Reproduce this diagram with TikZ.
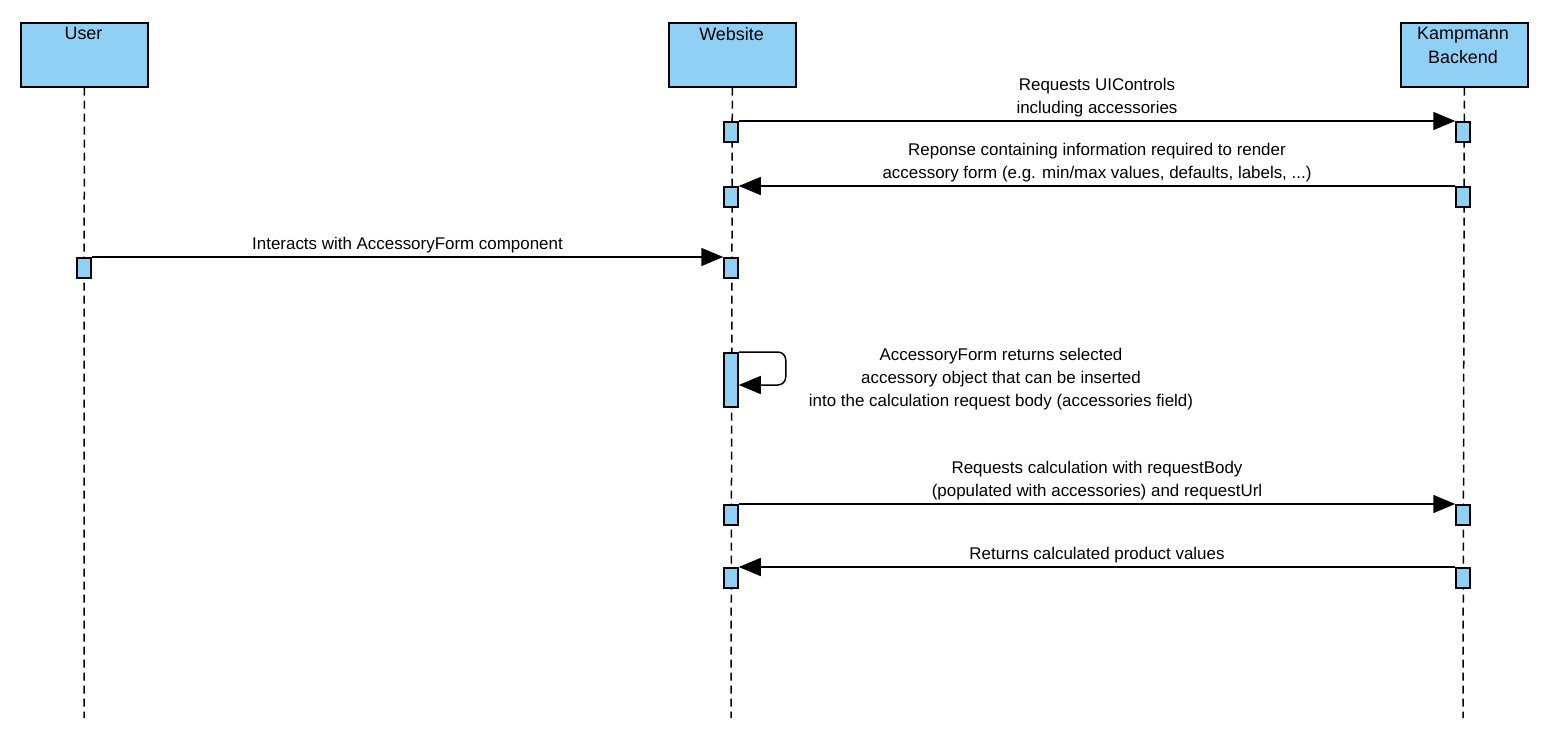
\documentclass[tikz,border=0pt]{standalone}
\usepackage{fontspec}
\setmainfont{Liberation Sans}
\usetikzlibrary{arrows.meta}
\definecolor{boxColor}{HTML}{91D0F5}
\tikzset{
  actor/.style={draw, line width=1.6bp, fill=boxColor, minimum width=127bp, minimum height=64bp, anchor=north west},
  actlabel/.style={anchor=north, align=center, font=\fontsize{18}{24}\selectfont},
  lifeline/.style={line width=1.5bp, dash pattern=on 8bp off 5bp},
  act/.style={draw, line width=1.5bp, fill=boxColor, minimum width=14bp, minimum height=20bp, inner sep=0pt, anchor=north},
  msg/.style={line width=1.5bp, -{Triangle[length=22bp, width=18bp]}},
  msglabel/.style={anchor=south, align=center, font=\fontsize{17}{23}\selectfont, inner sep=3bp}
}
\begin{document}
\begin{tikzpicture}[x=1bp,y=-1bp]
\useasboundingbox (0,0) rectangle (1551,747);

% actors
\node[actor] (user) at (20,22) {};
\node[actlabel] at (83.5,24) {User};
\node[actor] (web) at (668,22) {};
\node[actlabel] at (731.5,24) {Website};
\node[actor] (back) at (1400,22) {};
\node[actlabel] at (1463,24) {Kampmann\\Backend};

% lifelines
\coordinate (userEnd) at (84,718);
\coordinate (webEnd) at (731,718);
\coordinate (backEnd) at (1463,718);
\draw[lifeline] (user.south) -- (userEnd);
\draw[lifeline] (web.south) -- (webEnd);
\draw[lifeline] (back.south) -- (backEnd);

% activations
\node[act] (w1) at (731,121) {};
\node[act] (b1) at (1463,121) {};
\node[act] (w2) at (731,186) {};
\node[act] (b2) at (1463,186) {};
\node[act] (u3) at (84,257) {};
\node[act] (w3) at (731,257) {};
\node[act, minimum height=54bp] (w4) at (731,352) {};
\node[act] (w5) at (731,504) {};
\node[act] (b5) at (1463,504) {};
\node[act] (w6) at (731,567) {};
\node[act] (b6) at (1463,567) {};

% messages
\draw[msg] (w1.north east) -- (b1.north west)
  node[msglabel, midway] {Requests UIControls\\including accessories};
\draw[msg] (b2.north west) -- (w2.north east)
  node[msglabel, midway] {Reponse containing information required to render\\accessory form (e.g. min/max values, defaults, labels, ...)};
\draw[msg] (u3.north east) -- (w3.north west)
  node[msglabel, midway] {Interacts with AccessoryForm component};
\draw[msg, rounded corners=8bp] (w4.north east) -- ++(47,0) -- ++(0,33) -- ++(-47,0);
\node[align=center, font=\fontsize{17}{23}\selectfont] (selfLabel) at (1001,379)
  {AccessoryForm returns selected\\accessory object that can be inserted\\into the calculation request body (accessories field)};
\draw[msg] (w5.north east) -- (b5.north west)
  node[msglabel, midway] {Requests calculation with requestBody\\(populated with accessories) and requestUrl};
\draw[msg] (b6.north west) -- (w6.north east)
  node[msglabel, midway] {Returns calculated product values};
\end{tikzpicture}
\end{document}
